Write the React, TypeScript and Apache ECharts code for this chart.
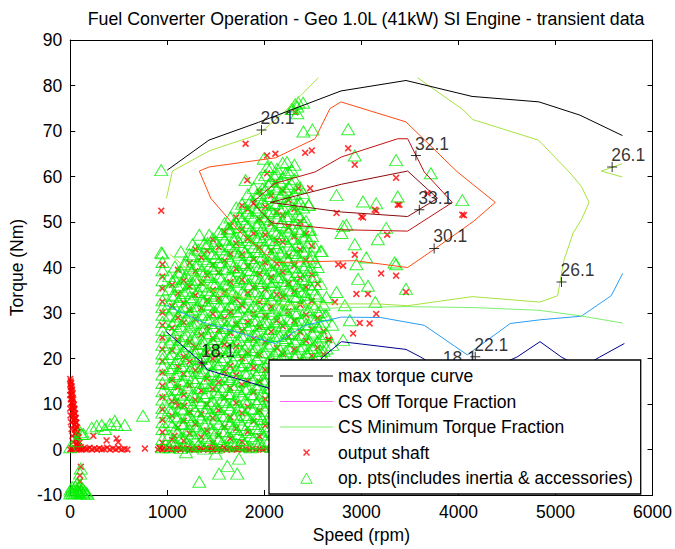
import React, { useEffect, useRef } from "react";
import * as echarts from "echarts";

const FONT = '"Liberation Sans", Arial, Helvetica, sans-serif';
const TITLE = "Fuel Converter Operation - Geo 1.0L (41kW) SI Engine - transient data";
const X_NAME = "Speed (rpm)";
const Y_NAME = "Torque (Nm)";

const xMin = 0, xMax = 6000, xStep = 1000;
const yMin = -10, yMax = 90, yStep = 10;

const legendNames = [
  "max torque curve",
  "CS Off Torque Fraction",
  "CS Minimum Torque Fraction",
  "output shaft",
  "op. pts(includes inertia & accessories)",
];

const maxTorqueCurve = [
  [1000, 61.4], [1430, 68.0], [1940, 71.9], [2790, 78.8], [3460, 81.1],
  [4140, 77.6], [4830, 76.4], [5250, 73.5], [5690, 69.0],
];
// CS off torque fraction lies on the 0 Nm line (hidden under the markers / legend)
const csOffTorque = [
  [1000, 0], [1430, 0], [1940, 0], [2790, 0], [3460, 0],
  [4140, 0], [4830, 0], [5250, 0], [5690, 0],
];
const csMinTorque = [
  [1000, 24.6], [1430, 27.8], [1940, 30.0], [2790, 31.2], [3460, 31.4],
  [4140, 31.2], [4830, 30.6], [5250, 29.4], [5690, 27.8],
];

// efficiency contours
const contour18_1 = [
  [989, 25.9], [1363, 19.0], [1414, 17.5], [2045, 13.5], [2350, 11.5], [2591, 20.1],
  [2795, 23.7], [3460, 22.0], [3613, 20.3], [3900, 16.5], [4091, 15.5], [4602, 20.3],
  [4841, 23.7], [5062, 20.3], [5267, 18.0], [5454, 20.3], [5710, 23.3],
];
const contour22_1 = [
  [989, 31.7], [1363, 28.0], [2114, 23.3], [2421, 27.3], [2795, 29.1], [3200, 29.0],
  [3648, 27.3], [4091, 20.8], [4534, 27.7], [4841, 28.5], [5267, 29.3], [5574, 33.8], [5693, 38.7],
];
const contour26_1a = [
  [992, 55.2], [1053, 61.2], [1439, 65.7], [1807, 68.3], [1943, 69.3], [2216, 74.4], [2557, 81.7],
];
const contour26_1b = [
  [3579, 81.7], [4040, 74.8], [4149, 72.5], [4824, 68.0], [5141, 61.0], [5267, 57.8],
  [5346, 54.3], [5267, 50.5], [5182, 47.6], [5086, 41.5], [5022, 33.8], [4840, 32.4],
  [4142, 33.6], [3477, 31.6], [3170, 32.0], [2659, 32.0], [2114, 31.7], [1943, 32.8],
  [1466, 34.9], [1023, 43.0],
];
const contour26_1c = [[5687, 62.8], [5472, 61.2], [5687, 59.9]];
const contour30_1 = [
  [1330, 61.2], [1432, 62.1], [2114, 64.1], [2523, 68.3], [2676, 74.9], [2789, 76.4],
  [3460, 72.0], [3989, 61.0], [4380, 54.3], [4159, 50.2], [3750, 44.0], [3477, 40.0],
  [2932, 41.5], [2114, 41.1], [1739, 48.0], [1449, 55.2], [1330, 61.2],
];
const contour32_1 = [
  [1875, 54.3], [2114, 58.5], [2523, 61.0], [2795, 64.3], [3375, 68.3], [3477, 68.3],
  [3648, 61.0], [3937, 54.3], [3477, 48.0], [2795, 48.3], [2079, 49.8], [1875, 54.3],
];
const contour33_1 = [
  [2063, 54.3], [2795, 58.3], [3477, 61.2], [3784, 55.2], [3477, 51.2], [2795, 52.2], [2063, 54.3],
];

const contourLabelRpm = [1971, 3562, 3597, 3750, 5062, 5584, 1357, 4173, 3850];
const contourLabelNm = [70.2, 64.6, 52.7, 44.2, 36.8, 62.1, 19.0, 20.4, 17.5];
const contourLabelText = ["26.1", "32.1", "33.1", "30.1", "26.1", "26.1", "18.1", "22.1", "18.1"];

// op. pts (green triangles): columns [rpm, torques]
const opColumns: [number, number[]][] = [
  [950, [0.5, 2.3, 4.5, 6.0, 8.1, 9.1, 11.0, 12.8, 14.6, 16.5, 18.3, 20.0, 21.1, 23.0, 24.8, 26.3, 28.0, 29.6, 31.3, 32.8, 35.0, 37.2, 39.4, 41.2, 43.1]],
  [1020, [0.5, 3.2, 6.1, 8.7, 11.9, 14.4, 17.6, 20.3, 23.5, 26.2, 29.4, 32.0, 35.3, 38.1]],
  [1080, [1.2, 4.4, 7.3, 10.5, 13.1, 16.2, 19.0, 22.4, 25.1, 28.3, 31.2, 34.0, 37.4, 40.2]],
  [1140, [0.3, 2.6, 5.8, 9.0, 12.3, 15.0, 18.4, 21.2, 24.0, 27.1, 30.3, 33.5, 36.2, 39.1, 43.5]],
  [1200, [1.5, 4.0, 7.1, 10.2, 13.6, 16.4, 19.5, 22.7, 25.3, 28.8, 31.6, 34.9, 38.2, 41.3]],
  [1260, [0.6, 3.5, 6.4, 9.6, 12.1, 15.7, 18.3, 21.5, 24.8, 27.4, 30.6, 33.2, 36.7, 39.5, 42.6, 45.1]],
  [1320, [1.0, 4.8, 7.7, 10.8, 13.4, 16.9, 19.8, 22.2, 25.9, 28.1, 31.5, 34.6, 37.3, 40.8, 43.9]],
  [1380, [0.2, 2.9, 5.5, 8.4, 11.7, 14.6, 17.2, 20.6, 23.4, 26.6, 29.7, 32.7, 35.8, 38.6, 41.9, 45.2]],
  [1440, [1.8, 4.6, 7.9, 10.1, 13.9, 16.6, 19.1, 22.9, 25.6, 28.5, 31.8, 34.3, 37.9, 40.4, 43.2]],
  [1500, [0.4, 3.7, 6.8, 9.3, 12.6, 15.3, 18.8, 21.7, 24.3, 27.8, 30.1, 33.8, 36.4, 39.7, 42.3, 45.8]],
  [1560, [1.3, 4.1, 7.5, 10.9, 13.2, 16.1, 19.6, 22.3, 25.5, 28.6, 31.3, 34.8, 37.6, 40.9, 44.0, 47.3]],
  [1620, [0.7, 2.8, 6.2, 9.8, 12.4, 15.9, 18.1, 21.4, 24.6, 27.2, 30.9, 33.4, 36.1, 39.8, 42.5, 45.1, 48.4]],
  [1680, [1.6, 4.9, 7.2, 10.4, 13.7, 16.5, 19.4, 22.6, 25.8, 28.2, 31.9, 34.5, 37.2, 40.1, 43.7, 46.2, 49.5]],
  [1740, [0.9, 3.4, 6.6, 9.4, 12.8, 15.2, 18.6, 21.9, 24.1, 27.5, 30.4, 33.1, 36.9, 39.3, 42.8, 45.6, 48.9, 51.3]],
  [1800, [1.1, 4.3, 7.6, 10.6, 13.3, 16.8, 19.2, 22.1, 25.2, 28.9, 31.4, 34.2, 37.5, 40.6, 43.4, 46.7, 49.8, 53.1]],
  [1860, [0.5, 3.0, 6.3, 9.1, 12.2, 15.6, 18.5, 21.8, 24.7, 27.3, 30.8, 33.6, 36.3, 39.4, 42.1, 45.3, 48.2, 51.4, 54.7]],
  [1920, [1.4, 4.7, 7.4, 10.3, 13.8, 16.3, 19.9, 22.5, 25.4, 28.4, 31.1, 34.7, 37.7, 40.3, 43.6, 46.4, 49.3, 52.6, 55.9]],
  [1980, [0.8, 3.3, 6.7, 9.7, 12.5, 15.4, 18.2, 21.3, 24.4, 27.6, 30.2, 33.3, 36.6, 39.9, 42.4, 45.9, 48.6, 51.2, 54.4, 57.3]],
  [2040, [1.7, 4.2, 7.0, 10.7, 13.5, 16.7, 19.3, 22.8, 25.7, 28.0, 31.7, 34.4, 37.1, 40.5, 43.3, 46.1, 49.7, 52.1, 55.3, 58.2]],
  [2100, [0.6, 3.9, 6.5, 9.2, 12.9, 15.8, 18.7, 21.1, 24.9, 27.9, 30.5, 33.9, 36.8, 39.2, 42.9, 45.4, 48.1, 51.9, 54.2, 57.8, 60.1]],
  [2160, [1.2, 4.5, 7.8, 10.0, 13.0, 16.0, 19.7, 22.0, 25.0, 28.7, 31.0, 34.1, 37.8, 40.7, 43.1, 46.9, 49.4, 52.8, 55.6, 58.9]],
  [2220, [0.3, 3.1, 6.9, 9.5, 12.7, 15.5, 18.9, 21.6, 24.5, 27.0, 30.7, 33.0, 36.5, 39.6, 42.2, 45.7, 48.8, 51.3, 54.6, 57.1, 60.7]],
  [2280, [1.9, 4.0, 7.3, 10.8, 13.6, 16.2, 19.0, 22.4, 25.6, 28.3, 31.6, 34.9, 37.0, 40.2, 43.8, 46.3, 49.0, 52.5, 55.2, 58.4, 74.8]],
  [2340, [0.4, 3.6, 6.0, 9.9, 12.0, 15.1, 18.0, 21.0, 24.2, 27.7, 30.0, 33.7, 36.0, 39.0, 42.7, 45.0, 48.5, 51.7, 54.0, 57.5, 75.4, 73.9]],
  [2400, [1.0, 4.8, 7.7, 10.1, 13.4, 16.6, 19.8, 22.7, 25.3, 28.6, 31.9, 34.6, 37.4, 40.0, 43.5, 46.6, 49.9, 53.2, 56.4, 76.2]],
  [2460, [0.7, 3.8, 6.2, 9.3, 12.6, 15.2, 18.3, 21.5, 24.0, 27.4, 30.6, 33.1, 36.2, 39.4, 42.0, 45.5, 48.3, 53.8]],
  [2520, [1.5, 4.6, 7.5, 10.5, 13.9, 16.4, 19.6, 22.9, 25.9, 28.1, 31.3, 34.3, 37.9, 41.2, 44.6]],
  [2580, [0.9, 3.2, 6.8, 9.6, 12.4, 15.7, 18.5, 21.7, 24.6, 27.2, 30.3, 36.4, 43.6]],
  [2640, [1.3, 4.3, 7.2, 10.4, 13.1, 16.9, 19.2, 22.2, 25.4, 29.5, 33.5]],
  [2700, [0.5, 3.5, 6.6, 9.8, 12.2, 15.6, 18.1, 23.0, 27.4]],
];
const opColumnsFill: [number, number[]][] = [
  [1050, [2.0, 5.3, 8.5, 11.4, 14.8, 17.9, 21.0, 24.2, 27.6, 30.8, 33.7, 36.9]],
  [1110, [0.9, 3.9, 7.0, 10.1, 13.3, 16.6, 19.9, 23.1, 26.3, 29.2, 32.6, 35.8, 38.9]],
  [1170, [2.4, 5.6, 8.8, 12.0, 15.2, 18.4, 21.7, 24.9, 28.2, 31.3, 34.4, 37.6, 40.7]],
  [1230, [1.1, 4.4, 7.6, 10.9, 14.1, 17.3, 20.6, 23.8, 27.0, 30.1, 33.5, 36.5, 39.8, 43.0]],
  [1290, [2.2, 5.1, 8.4, 11.6, 14.9, 18.0, 21.3, 24.4, 27.8, 30.9, 34.1, 37.3, 40.4, 44.2]],
  [1350, [0.8, 3.6, 6.9, 10.2, 13.5, 16.8, 19.9, 23.2, 26.4, 29.6, 32.9, 36.0, 39.2, 42.5]],
  [1410, [2.5, 5.9, 9.1, 12.4, 15.6, 18.9, 22.1, 25.3, 28.6, 31.9, 35.0, 38.3, 41.4, 44.8]],
  [1470, [1.0, 4.2, 7.5, 10.7, 14.0, 17.2, 20.4, 23.6, 26.9, 30.2, 33.3, 36.6, 39.8, 43.0, 46.4]],
  [1530, [2.3, 5.6, 8.9, 12.1, 15.4, 18.6, 21.9, 25.0, 28.3, 31.6, 34.8, 38.0, 41.2, 44.6, 47.8]],
  [1590, [0.9, 4.0, 7.3, 10.5, 13.8, 17.0, 20.3, 23.5, 26.7, 30.0, 33.2, 36.5, 39.6, 42.9, 46.1, 49.7]],
  [1650, [2.6, 5.7, 9.0, 12.2, 15.5, 18.7, 22.0, 25.2, 28.5, 31.7, 34.9, 38.2, 41.4, 44.7, 47.9, 51.0]],
  [1710, [1.2, 4.5, 7.7, 11.0, 14.2, 17.4, 20.7, 23.9, 27.1, 30.4, 33.6, 36.9, 40.0, 43.3, 46.6, 49.8, 53.2]],
  [1770, [2.1, 5.4, 8.6, 11.9, 15.0, 18.3, 21.5, 24.8, 28.0, 31.2, 34.5, 37.7, 41.0, 44.2, 47.5, 50.6, 54.0]],
  [1830, [0.7, 3.8, 7.1, 10.4, 13.6, 16.9, 20.1, 23.3, 26.6, 29.8, 33.0, 36.3, 39.5, 42.8, 46.0, 49.2, 52.5, 56.1]],
  [1890, [2.4, 5.6, 8.9, 12.1, 15.3, 18.6, 21.8, 25.1, 28.3, 31.5, 34.8, 38.0, 41.3, 44.5, 47.7, 51.0, 54.3, 57.5]],
  [1950, [1.3, 4.6, 7.8, 11.1, 14.3, 17.5, 20.8, 24.0, 27.2, 30.5, 33.7, 37.0, 40.2, 43.5, 46.7, 49.9, 53.2, 56.4, 59.6]],
  [2010, [2.0, 5.2, 8.5, 11.7, 15.0, 18.2, 21.4, 24.7, 27.9, 31.1, 34.4, 37.6, 40.9, 44.1, 47.3, 50.6, 53.8, 57.0, 60.3]],
  [2070, [0.6, 3.9, 7.1, 10.3, 13.6, 16.8, 20.1, 23.3, 26.5, 29.8, 33.0, 36.2, 39.5, 42.7, 46.0, 49.2, 52.4, 55.7, 58.9, 62.1]],
  [2130, [2.3, 5.5, 8.8, 12.0, 15.2, 18.5, 21.7, 25.0, 28.2, 31.4, 34.7, 37.9, 41.1, 44.4, 47.6, 50.9, 54.1, 57.3, 60.6]],
  [2190, [1.4, 4.7, 7.9, 11.2, 14.4, 17.6, 20.9, 24.1, 27.3, 30.6, 33.8, 37.1, 40.3, 43.5, 46.8, 50.0, 53.2, 56.5, 59.7, 63.0]],
  [2250, [2.7, 6.0, 9.2, 12.5, 15.7, 18.9, 22.2, 25.4, 28.7, 31.9, 35.1, 38.4, 41.6, 44.8, 48.1, 51.3, 54.6, 57.8, 61.0]],
  [2310, [1.1, 4.3, 7.6, 10.8, 14.1, 17.3, 20.5, 23.8, 27.0, 30.2, 33.5, 36.7, 40.0, 43.2, 46.4, 49.7, 52.9, 56.1, 59.4, 62.6]],
  [2370, [2.5, 5.8, 9.0, 12.2, 15.5, 18.7, 22.0, 25.2, 28.4, 31.7, 34.9, 38.1, 41.4, 44.6, 47.9, 51.1, 54.3, 57.6]],
  [2430, [1.6, 4.9, 8.1, 11.4, 14.6, 17.8, 21.1, 24.3, 27.6, 30.8, 34.0, 37.3, 40.5, 43.7, 47.0, 50.2]],
  [2490, [2.8, 6.1, 9.3, 12.6, 15.8, 19.0, 22.3, 25.5, 28.7, 32.0, 35.2, 39.5, 42.7, 46.9]],
  [2550, [1.0, 4.2, 7.5, 10.7, 14.0, 17.2, 20.4, 23.7, 26.9, 30.1, 33.8, 40.1]],
  [2610, [2.2, 5.5, 8.7, 12.0, 15.2, 18.4, 21.7, 24.9, 28.1, 31.8]],
];
const opScattered = [
  [938, 61.4], [2318, 75.9], [2290, 74.8], [2350, 76.3], [2403, 69.9], [2496, 70.3], [2864, 70.4],
  [1994, 63.9], [2028, 62.1], [2131, 61.7], [2233, 63.2], [2284, 61.4], [1807, 59.2], [2932, 64.6],
  [3358, 63.6], [2744, 55.9], [3017, 54.5], [3153, 54.1], [3375, 55.6], [3716, 60.7], [4040, 54.8],
  [2846, 49.4], [2795, 47.6], [3256, 48.7], [3170, 46.2], [2932, 45.1], [1330, 47.2], [1432, 47.2],
  [1636, 48.7], [1824, 52.0], [1415, 45.4], [938, 43.3], [2455, 53.8], [2812, 49.1], [3051, 42.2],
  [2949, 40.7], [3358, 40.7], [3460, 35.3], [2966, 37.5], [3068, 36.0], [2744, 34.6], [2829, 31.7],
  [3143, 32.4], [2881, 28.4], [2625, 29.5], [2523, 36.4], [2591, 43.6], [2472, 48.3], [2812, 24.1],
  [3341, 41.1],
  [0, 0.5], [120, 3.4], [136, 3.4], [222, 4.8], [273, 5.2], [324, 5.4], [358, 4.5], [409, 5.6],
  [460, 6.3], [478, 5.4], [562, 5.4], [750, 7.4], [60, 1.8], [102, 3.8], [109, -4.2], [102, -5.3],
  [1330, -7.1], [1534, -5.3], [1619, -3.6], [1739, -2.0], [1721, -5.3], [1193, -0.6], [1500, -0.9],
  [0, -9.7], [12, -9.2], [25, -9.6], [38, -9.0], [50, -9.5], [62, -8.8], [75, -9.4], [88, -9.1],
  [100, -9.6], [112, -8.9], [125, -9.3], [138, -9.7], [150, -9.2], [165, -9.5], [178, -9.8],
  [20, -8.3], [55, -8.1], [90, -8.4], [130, -8.6], [5, -8.8], [70, -7.6], [105, -7.9],
];

// output shaft (red x)
const shaftColumns: [number, number[]][] = [
  [950, [1.5, 3.8, 6.5, 8.8, 11.5, 14.0, 16.9, 19.4, 22.0, 24.6, 27.3, 30.1, 32.5, 35.4, 38.0, 40.7]],
  [1050, [2.1, 7.4, 10.6, 15.3, 21.8, 26.7, 31.5, 36.2]],
  [1110, [4.8, 9.6, 13.7, 18.2, 24.1, 29.0, 34.3, 39.5]],
  [1170, [1.9, 6.3, 12.0, 16.6, 20.4, 27.9, 32.2, 37.1]],
  [1230, [3.5, 8.2, 14.1, 19.3, 23.7, 30.6, 35.8, 41.0]],
  [1290, [5.6, 10.9, 17.4, 22.5, 28.6, 33.9, 39.2, 44.0]],
  [1350, [2.7, 7.8, 12.9, 18.8, 25.2, 31.1, 36.6, 42.2]],
  [1410, [4.2, 9.9, 15.6, 21.4, 27.0, 32.8, 38.3, 43.7]],
  [1470, [1.4, 6.9, 13.3, 19.9, 24.4, 29.8, 35.1, 40.6, 46.1]],
  [1530, [3.1, 8.6, 14.8, 20.7, 26.3, 33.2, 38.9, 44.5]],
  [1590, [5.0, 11.4, 17.0, 23.1, 28.8, 34.7, 41.5, 47.9]],
  [1650, [2.4, 7.1, 13.5, 18.4, 25.6, 30.2, 36.8, 43.0, 49.2]],
  [1710, [4.6, 10.2, 16.3, 22.7, 27.5, 33.0, 39.7, 45.3, 51.0]],
  [1770, [1.7, 8.0, 14.2, 20.1, 26.1, 31.7, 37.3, 42.9, 48.4, 53.6]],
  [1830, [3.9, 9.4, 15.1, 21.2, 28.0, 34.4, 40.2, 46.3, 52.8]],
  [1890, [6.2, 12.6, 18.0, 24.3, 29.9, 35.6, 41.8, 47.5, 54.1]],
  [1950, [2.9, 8.5, 14.9, 20.8, 26.9, 32.4, 38.6, 44.4, 50.6, 56.7]],
  [2010, [5.3, 11.1, 17.5, 23.6, 29.3, 35.2, 41.1, 47.2, 53.3]],
  [2070, [1.6, 7.6, 13.8, 19.5, 25.9, 31.4, 37.9, 43.8, 49.6, 55.8]],
  [2130, [4.4, 10.3, 16.2, 22.3, 28.4, 34.0, 40.8, 46.0, 52.2]],
  [2190, [2.2, 8.9, 15.4, 21.0, 27.1, 33.6, 39.0, 45.6, 51.5, 56.9]],
  [2250, [6.0, 12.1, 18.6, 24.8, 30.4, 36.5, 42.6, 48.7, 54.8]],
  [2310, [3.3, 9.8, 15.9, 22.0, 28.3, 34.8, 40.4, 46.8, 52.9]],
  [2370, [1.1, 7.3, 13.6, 19.7, 25.8, 31.8, 37.7, 43.9, 50.0]],
  [2430, [5.7, 11.8, 17.8, 23.9, 29.6, 35.7, 41.6, 47.4]],
  [2490, [2.6, 8.7, 14.5, 20.6, 26.4, 32.6, 38.4, 44.7]],
  [2550, [4.9, 10.8, 16.8, 22.4, 28.9, 36.4]],
  [2610, [1.8, 7.9, 14.3, 20.9, 26.0]],
  [2670, [4.1, 10.0, 17.2, 24.1]],
];
const shaftScattered = [
  [938, 52.5], [1807, 67.2], [2028, 64.6], [2114, 65.0], [2421, 65.2], [2489, 65.7], [2864, 66.2],
  [2932, 62.6], [3358, 59.7], [3682, 56.3], [4040, 51.6], [2028, 60.7], [1824, 59.2], [2114, 58.8],
  [2318, 74.1], [3375, 53.8], [3137, 52.7], [2744, 52.0], [3000, 51.2], [2352, 57.4], [2472, 57.4],
  [3266, 47.2], [2932, 42.8], [2812, 40.4], [3204, 38.7], [3358, 38.2], [2949, 34.2], [3068, 34.2],
  [3460, 34.6], [3153, 29.8], [2983, 27.8], [3085, 27.7], [2727, 32.4], [2659, 24.1], [2915, 25.5],
  [2761, 40.7], [4057, 51.5], [3392, 53.8], [3153, 52.5], [3017, 51.0], [1091, 10.6], [1176, 9.6],
  [1074, 3.0], [239, 3.0], [375, 2.0], [494, 1.6], [478, 2.4], [110, -3.8], [100, -5.7], [100, -7.0],
  [90, -8.5],
];
const shaftNearIdle = [
  [0, 15.5], [5, 15.0], [2, 14.3], [10, 14.6], [8, 13.7], [15, 13.9], [4, 13.0], [13, 12.8], [20, 13.2],
  [0, 12.0], [10, 11.9], [18, 12.1], [25, 12.4], [6, 11.0], [15, 11.2], [24, 11.4], [32, 11.0],
  [12, 10.2], [20, 10.4], [28, 10.0], [38, 9.8], [16, 9.3], [26, 9.5], [35, 9.1], [45, 8.9],
  [22, 8.4], [32, 8.5], [42, 8.0], [52, 7.9], [28, 7.3], [38, 7.5], [48, 7.0], [58, 6.9],
  [33, 6.4], [44, 6.5], [54, 6.0], [64, 5.9], [40, 5.4], [50, 5.5], [62, 5.0], [72, 4.8],
  [46, 4.4], [58, 4.3], [70, 3.9], [80, 3.8], [52, 3.4], [64, 3.2], [76, 2.8], [88, 2.7],
  [58, 2.3], [70, 2.0], [84, 1.8], [96, 1.5], [65, 1.2], [78, 0.9], [92, 0.7], [110, 0.5],
  [0, 9.0], [3, 7.5], [8, 6.0], [14, 4.5], [22, 3.0], [30, 1.6],
  [0, 0.0], [15, 0.3], [30, 0.0], [45, 0.2], [60, 0.0], [75, 0.4], [90, 0.0], [105, 0.2], [120, 0.0],
  [140, 0.3], [160, 0.0], [180, 0.1], [200, 0.4], [225, 0.0], [250, 0.2], [275, 0.0], [300, 0.3],
  [325, 0.0], [350, 0.1], [380, 0.4], [410, 0.0], [440, 0.2], [470, 0.0], [500, 0.3], [530, 0.0],
  [560, 0.1], [590, 0.0], [770, 0.2], [920, 0.4],
];
const shaftZeroRow = [
  [905, 0.0], [928, 0.3], [951, 0.0], [972, 0.2], [996, 0.0], [1019, 0.4], [1043, 0.0], [1065, 0.1],
  [1088, 0.0], [1112, 0.3], [1137, 0.0], [1160, 0.2], [1183, 0.0], [1208, 0.4], [1231, 0.0],
  [1255, 0.1], [1279, 0.0], [1302, 0.3], [1326, 0.0], [1349, 0.2], [1373, 0.0], [1398, 0.4],
  [1421, 0.0], [1445, 0.1], [1468, 0.0], [1492, 0.3], [1517, 0.0], [1540, 0.2], [1563, 0.0],
  [1588, 0.4], [1611, 0.0], [1640, 0.2], [1665, 0.0], [1690, 0.1], [1718, 0.0], [1745, 0.3],
  [1775, 0.0], [1810, 0.1], [1845, 0.0], [1880, 0.2], [1915, 0.0], [1950, 0.1], [1985, 0.0],
  [2020, 0.2], [2055, 0.0],
];

const fromColumns = (cols: [number, number[]][]) =>
  cols.flatMap(([r, ts]) => ts.map((t) => [r, t]));

const X_PATH = "path://M0,1.3L1.3,0L4,2.7L6.7,0L8,1.3L5.3,4L8,6.7L6.7,8L4,5.3L1.3,8L0,6.7L2.7,4Z";
const X_LEGEND = "path://M0,0M16,16M4,5.2L5.2,4L8,6.8L10.8,4L12,5.2L9.2,8L12,10.8L10.8,12L8,9.2L5.2,12L4,10.8L6.8,8Z";
const TRI_LEGEND = "path://M0,0M16,16M1.5,14L8,2.5L14.5,14Z";
const LINE_LEGEND = "path://M0,0H100V2H0Z";
const PLUS_PATH = "path://M4.5,0H5.5V4.5H10V5.5H5.5V10H4.5V5.5H0V4.5H4.5Z";

const LINE_COLORS = ["#000000", "#ff66ff", "#7fef6f"];

export default function App() {
  const ref = useRef<HTMLDivElement>(null);
  useEffect(() => {
    document.body.style.margin = "0";
    if (!ref.current) return;
    const chart = echarts.init(ref.current, undefined, { renderer: "svg" });

    const contours = [
      { color: "#00008f", data: contour18_1 },
      { color: "#2a9df4", data: contour22_1 },
      { color: "#a6e33e", data: contour26_1a },
      { color: "#a6e33e", data: contour26_1b },
      { color: "#a6e33e", data: contour26_1c },
      { color: "#ff4d14", data: contour30_1 },
      { color: "#c01212", data: contour32_1 },
      { color: "#8a0a0a", data: contour33_1 },
    ];

    const axisCommon = {
      axisLine: { show: true, onZero: false, lineStyle: { color: "#000", width: 1 } },
      axisTick: { show: true, inside: true, length: 5, lineStyle: { color: "#000" } },
      splitLine: { show: false },
    };
    const labelStyle = { color: "#000", fontSize: 17.5, fontFamily: FONT };
    const lineIcon = (c: string) => ({ color: c, opacity: 1, borderWidth: 0 });

    const option: any = {
      animation: false,
      backgroundColor: "#fff",
      textStyle: { fontFamily: FONT },
      graphic: [
        {
          type: "text",
          x: 366,
          y: 19,
          style: {
            text: TITLE,
            fontSize: 17.8,
            fontFamily: FONT,
            fill: "#000",
            align: "center",
            verticalAlign: "middle",
          },
        },
      ],
      grid: { left: 70, right: 18, top: 40, bottom: 49, containLabel: false },
      xAxis: [
        {
          type: "value", min: xMin, max: xMax, interval: xStep, position: "bottom",
          ...axisCommon,
          axisLabel: { ...labelStyle, margin: 8, formatter: (v: number) => String(v) },
          name: X_NAME, nameLocation: "middle", nameGap: 31,
          nameTextStyle: { ...labelStyle },
        },
        {
          type: "value", min: xMin, max: xMax, interval: xStep, position: "top",
          ...axisCommon,
          axisLabel: { show: false },
        },
      ],
      yAxis: [
        {
          type: "value", min: yMin, max: yMax, interval: yStep, position: "left",
          ...axisCommon,
          axisLabel: { ...labelStyle, margin: 8, formatter: (v: number) => String(v) },
          name: Y_NAME, nameLocation: "middle", nameGap: 35,
          nameTextStyle: { ...labelStyle },
        },
        {
          type: "value", min: yMin, max: yMax, interval: yStep, position: "right",
          ...axisCommon,
          axisLabel: { show: false },
        },
      ],
      legend: {
        orient: "vertical",
        left: 269,
        top: 360,
        padding: [7, 8, 7, 11],
        itemWidth: 53,
        itemHeight: 14,
        itemGap: 7.5,
        backgroundColor: "#fff",
        borderColor: "#000",
        borderWidth: 1.3,
        selectedMode: false,
        textStyle: { ...labelStyle },
        data: [
          { name: legendNames[0], icon: LINE_LEGEND, itemStyle: lineIcon(LINE_COLORS[0]) },
          { name: legendNames[1], icon: LINE_LEGEND, itemStyle: lineIcon(LINE_COLORS[1]) },
          { name: legendNames[2], icon: LINE_LEGEND, itemStyle: lineIcon(LINE_COLORS[2]) },
          { name: legendNames[3], icon: X_LEGEND, itemStyle: { color: "#ff0000", borderWidth: 0 } },
          {
            name: legendNames[4], icon: TRI_LEGEND,
            itemStyle: { color: "rgba(0,0,0,0)", borderColor: "#00f000", borderWidth: 1 },
          },
        ],
      },
      series: [
        {
          name: legendNames[1],
          type: "line",
          color: LINE_COLORS[1],
          data: csOffTorque,
          symbol: "none",
          lineStyle: { color: LINE_COLORS[1], width: 1 },
          itemStyle: { color: LINE_COLORS[1] },
          z: 1,
          silent: true,
        },
        {
          name: legendNames[3],
          type: "scatter",
          symbol: X_PATH,
          symbolSize: 7,
          itemStyle: { color: "#ff0000" },
          data: [...fromColumns(shaftColumns), ...shaftScattered, ...shaftNearIdle, ...shaftZeroRow],
          z: 2,
          silent: true,
        },
        {
          name: legendNames[4],
          type: "scatter",
          symbol: "triangle",
          symbolSize: [13, 11],
          itemStyle: { color: "rgba(0,0,0,0)", borderColor: "#00f000", borderWidth: 1 },
          data: [...fromColumns(opColumns), ...fromColumns(opColumnsFill), ...opScattered],
          z: 2,
          silent: true,
        },
        ...contours.map((c) => ({
          type: "line",
          data: c.data,
          symbol: "none",
          lineStyle: { color: c.color, width: 1 },
          z: 3,
          silent: true,
        })),
        {
          name: legendNames[0],
          type: "line",
          color: LINE_COLORS[0],
          data: maxTorqueCurve,
          symbol: "none",
          lineStyle: { color: LINE_COLORS[0], width: 1 },
          itemStyle: { color: LINE_COLORS[0] },
          z: 3,
        },
        {
          name: legendNames[2],
          type: "line",
          color: LINE_COLORS[2],
          data: csMinTorque,
          symbol: "none",
          lineStyle: { color: LINE_COLORS[2], width: 1 },
          itemStyle: { color: LINE_COLORS[2] },
          z: 3,
        },
        {
          type: "scatter",
          symbol: PLUS_PATH,
          symbolSize: 10,
          itemStyle: { color: "#000" },
          data: contourLabelRpm.map((r, i) => [r, contourLabelNm[i], contourLabelText[i]]),
          label: {
            show: true,
            formatter: (p: any) => p.value[2],
            position: [4, -16],
            align: "left",
            verticalAlign: "top",
            color: "#000",
            fontSize: 17.5,
            fontFamily: FONT,
          },
          z: 3,
          silent: true,
        },
      ],
    };
    chart.setOption(option);
    return () => chart.dispose();
  }, []);
  return <div ref={ref} style={{ width: 675, height: 549 }} />;
}
